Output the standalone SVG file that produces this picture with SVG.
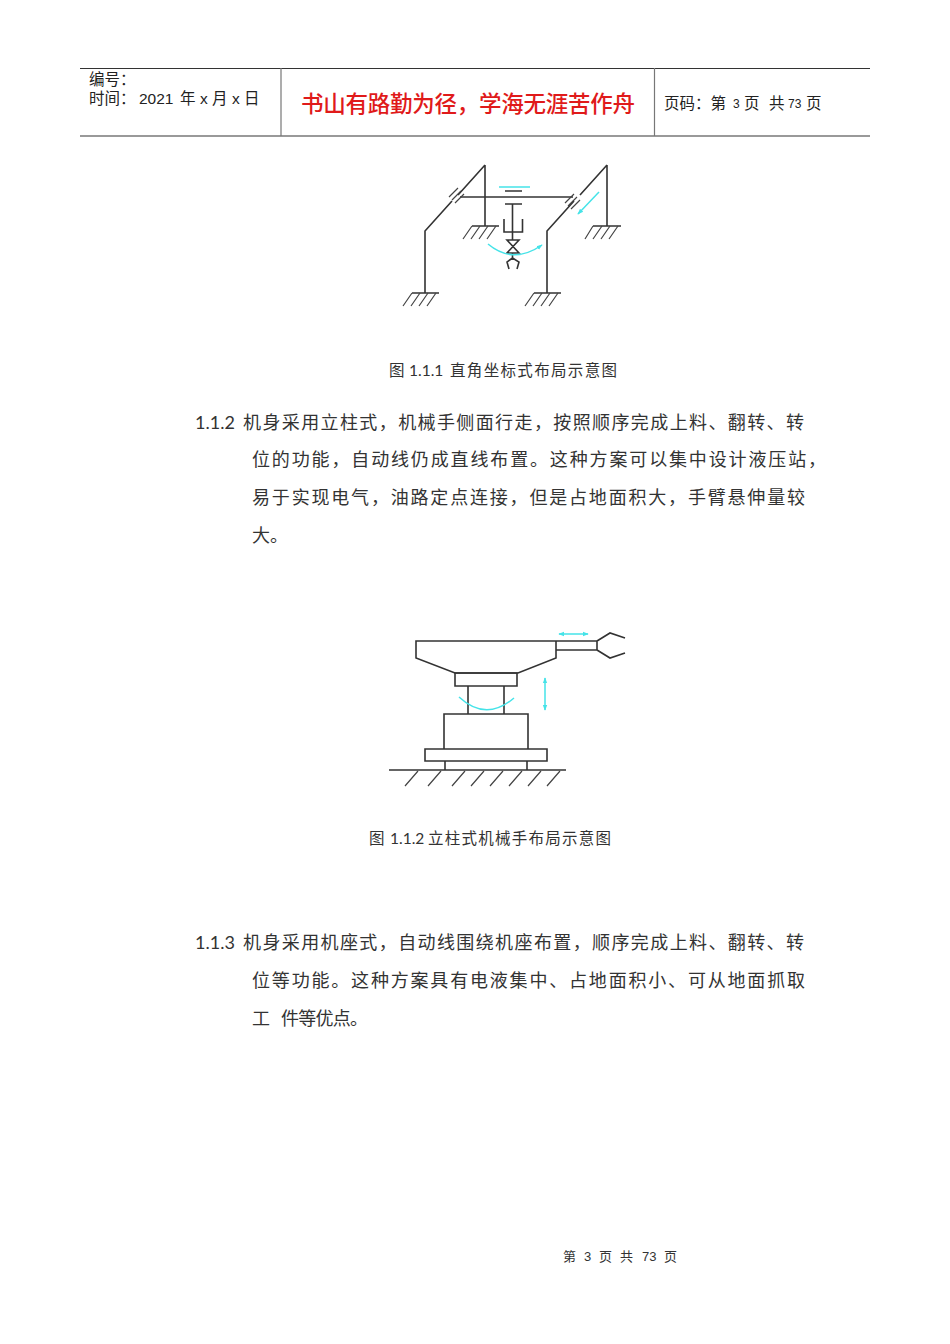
<svg xmlns="http://www.w3.org/2000/svg" width="950" height="1344" viewBox="0 0 950 1344">
<style>
text{font-family:"Noto Sans CJK SC",sans-serif;fill:#222}
.n{font-family:"Lato","Noto Sans CJK SC",sans-serif}
.b{font-size:18px;fill:#333}
.c{font-size:15.500px;fill:#333}
.h{font-size:15.500px}
.l{font-family:"Liberation Sans","Noto Sans CJK SC",sans-serif}
.f{font-size:13px;fill:#333}
.k{fill:none;stroke:#333;stroke-width:1.600}
.a{fill:none;stroke:#45e3e8;stroke-width:1.500}
.g{fill:none;stroke:#444;stroke-width:1.200}
</style>
<defs>
<marker id="m" viewBox="0 0 8 8" refX="7" refY="4" markerWidth="4" markerHeight="4" orient="auto-start-reverse"><path d="M0 1L8 4L0 7z" fill="#45e3e8"/></marker>
</defs>
<rect width="950" height="1344" fill="#fff"/>
<g id="header">
<path d="M80 68.500H870" stroke="#333" fill="none"/>
<path d="M80 136H870" stroke="#777" stroke-width="1.400" fill="none"/>
<path d="M281 68V136M654.500 68V136" stroke="#777" stroke-width="1.200" fill="none"/>
<text class="h" x="89" y="85">编号：</text>
<text class="h" x="89" y="104">时间：</text>
<text class="h l" x="139" y="104" font-size="16">2021</text>
<text class="h" x="180" y="104">年</text>
<text class="h l" x="200" y="104">x</text>
<text class="h" x="212" y="104">月</text>
<text class="h l" x="232" y="104">x</text>
<text class="h" x="244" y="104">日</text>
<text x="301" y="112" font-size="22.500" font-weight="500" style="fill:#e01a1a" textLength="334">书山有路勤为径，学海无涯苦作舟</text>
<text class="h" x="664" y="109">页码：第</text>
<text class="l" x="733" y="108" font-size="12">3</text>
<text class="h" x="744" y="109">页</text>
<text class="h" x="769" y="109">共</text>
<text class="l" x="788" y="108" font-size="12">73</text>
<text class="h" x="806" y="109">页</text>
</g>
<g id="figure-1">
<path class="k" d="M485 165V226M472 226H499M485 165L458 195M452 201L425 231V293M412 293H439"/>
<path class="k" d="M607 165V226M593 226H621M607 165L580 195M574 201L547 231V293M534 293H561"/>
<path class="k" d="M460 197H573"/>
<path class="g" d="M449 197L458 188M452 200L461 191M455 203L464 194M565 203L574 194M568 206L577 197M571 209L580 200"/>
<path class="g" d="M472 226L463 239M480 226L471 239M488 226L479 239M496 226L487 239M602 226L593 239M610 226L601 239M618 226L609 239M593 226L585 239M412 293L403 306M420 293L411 306M428 293L419 306M436 293L427 306M534 293L525 306M542 293L533 306M550 293L541 306M558 293L549 306"/>
<path class="k" d="M505 191H522M505 204H522M512.500 204V232M504 219V232H522.500V219M512.500 232V240"/>
<path class="k" d="M507 240H519L507 253H519ZM512.500 253V258M512.500 258L507 262L509 269M512.500 258L519 262L517 269"/>
<path class="a" d="M499 187H530"/>
<path class="a" d="M488 244Q513 265 542 245" marker-end="url(#m)"/>
<path class="a" d="M599 192L578 214" marker-end="url(#m)"/>
</g>
<g id="caption-1">
<text class="c" x="389" y="376">图</text>
<text class="c n" x="409" y="376">1.1.1</text>
<text class="c" x="450" y="376" textLength="167">直角坐标式布局示意图</text>
</g>
<g id="paragraph-1">
<text class="b n" x="195" y="429">1.1.2</text>
<text class="b" x="243" y="429" textLength="561">机身采用立柱式，机械手侧面行走，按照顺序完成上料、翻转、转</text>
<text class="b" x="252" y="466" textLength="574">位的功能，自动线仍成直线布置。这种方案可以集中设计液压站，</text>
<text class="b" x="252" y="504" textLength="553">易于实现电气，油路定点连接，但是占地面积大，手臂悬伸量较</text>
<text class="b" x="252" y="542">大。</text>
</g>
<g id="figure-2">
<path class="k" d="M416 641H556V658L518 673H455L416 658ZM556 641H597V650H556M597 641L610 633L625 638M597 650L610 658L625 653"/>
<path class="k" d="M455 673H517V686H455ZM468 686V714M504 686V714M444 714H528V749H444ZM425 749H547V761H425ZM445 761V770M527 761V770M389 770H566"/>
<path class="g" d="M418 771L405 786M441 771L428 786M465 771L452 786M484 771L471 786M503 771L490 786M522 771L509 786M541 771L528 786M560 771L547 786"/>
<path class="a" d="M559 634H588" marker-start="url(#m)" marker-end="url(#m)"/>
<path class="a" d="M545 678V710" marker-start="url(#m)" marker-end="url(#m)"/>
<path class="a" d="M459 697Q486 722 514 698"/>
</g>
<g id="caption-2">
<text class="c" x="369" y="844">图</text>
<text class="c n" x="390" y="844">1.1.2</text>
<text class="c" x="428" y="844" textLength="183">立柱式机械手布局示意图</text>
</g>
<g id="paragraph-2">
<text class="b n" x="195" y="949">1.1.3</text>
<text class="b" x="243" y="949" textLength="561">机身采用机座式，自动线围绕机座布置，顺序完成上料、翻转、转</text>
<text class="b" x="252" y="987" textLength="553">位等功能。这种方案具有电液集中、占地面积小、可从地面抓取</text>
<text class="b" x="252" y="1025">工</text>
<text class="b" x="281" y="1025" textLength="87">件等优点。</text>
</g>
<g id="footer">
<text class="f" x="563" y="1261">第</text>
<text class="f l" x="584" y="1261">3</text>
<text class="f" x="599" y="1261">页</text>
<text class="f" x="620" y="1261">共</text>
<text class="f l" x="642" y="1261">73</text>
<text class="f" x="664" y="1261">页</text>
</g>
</svg>
